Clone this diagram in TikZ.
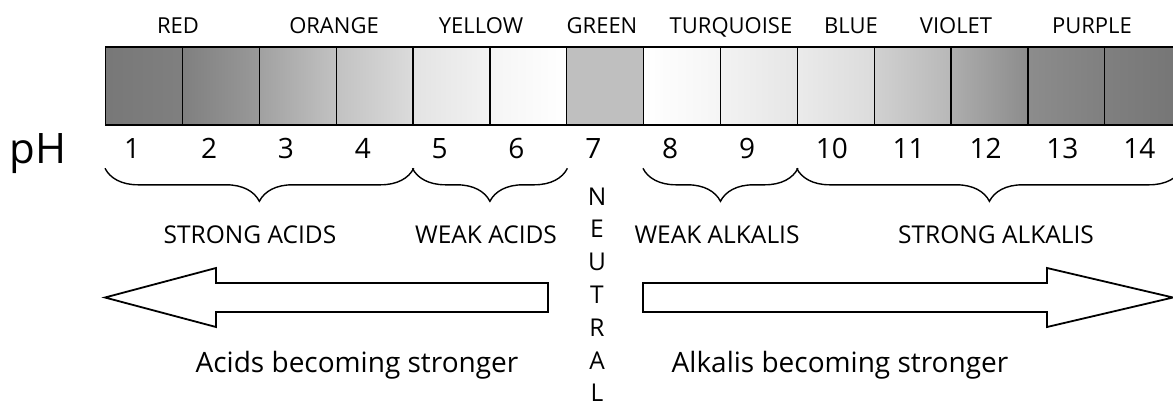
\documentclass[tikz,border=0pt]{standalone}
\usepackage{fontspec}
\setmainfont{Open Sans}
\usetikzlibrary{decorations.pathreplacing,positioning}

\begin{document}
\begin{tikzpicture}[x=1pt, y=-1pt,
    cell/.style = {draw, line width=1.3pt, rectangle, minimum width=76.85pt, minimum height=77pt, inner sep=0pt, anchor=north west},
    colname/.style = {font=\fontsize{22}{26}\selectfont, anchor=base, inner sep=0pt},
    num/.style = {font=\fontsize{28}{32}\selectfont, anchor=base west, inner sep=0pt},
    grp/.style = {font=\fontsize{24.5}{28}\selectfont, anchor=base, inner sep=0pt},
    trend/.style = {font=\fontsize{28}{32}\selectfont, anchor=base, inner sep=0pt},
    brace/.style = {decorate, decoration={brace, amplitude=33pt, mirror}, line width=1.4pt},
    bigarrow/.style = {draw, line width=1.8pt, fill=white, line join=miter}]
    \useasboundingbox (0,0) rectangle (1173,408);

    % colour bar, one cell per pH value
    \foreach \i/\l/\r in {1/47/50, 2/50/60, 3/63/76, 4/76/86, 5/89/95, 6/96/100, 7/75/75,
                          8/100/96, 9/95/90, 10/92/86, 11/82/72, 12/68/55, 13/55/50, 14/50/46}
        \node[cell, left color=white!\l!black, right color=white!\r!black] (c\i) at ({105+(\i-1)*76.85},47) {};
    \draw[line width=2pt] (c1.north west) -- (c14.north east);
    \draw[line width=2pt] (c1.south west) -- (c14.south east);

    % colour names
    \node[colname] (red) at (178,33) {RED};
    \node[colname] (orange) at (334,33) {ORANGE};
    \node[colname] (yellow) at (481,33) {YELLOW};
    \node[colname] (green) at (602,33) {GREEN};
    \node[colname] (turq) at (731,33) {TURQUOISE};
    \node[colname] (blue) at (851,33) {BLUE};
    \node[colname] (violet) at (956,33) {VIOLET};
    \node[colname] (purple) at (1092,33) {PURPLE};

    % pH scale
    \node[font=\fontsize{42}{46}\selectfont, anchor=base, inner sep=0pt] (pH) at (38,163) {pH};
    \foreach \i in {1,...,14}
        \node[num] (n\i) at ({105+(\i-1)*76.85+19},158) {\i};

    % braces
    \draw[brace] ([yshift=-43pt]c1.south west) -- ([yshift=-43pt]c4.south east);
    \draw[brace] ([yshift=-43pt]c5.south west) -- ([yshift=-43pt]c6.south east);
    \draw[brace] ([yshift=-43pt]c8.south west) -- ([yshift=-43pt]c9.south east);
    \draw[brace] ([yshift=-43pt]c10.south west) -- ([yshift=-43pt]c14.south east);

    \node[grp] (strongacids) at (250,243) {STRONG ACIDS};
    \node[grp] (weakacids) at (486,243) {WEAK ACIDS};
    \node[grp] (weakalk) at (717,243) {WEAK ALKALIS};
    \node[grp] (strongalk) at (996,243) {STRONG ALKALIS};

    % NEUTRAL written downwards
    \foreach \c [count=\k] in {N,E,U,T,R,A,L}
        \node[grp] (neut\k) at ({597},{205+(\k-1)*32.8}) {\c};

    % block arrows
    \draw[bigarrow] (548,283) -- (216,283) -- (216,268) -- (105,297.5) -- (216,327) -- (216,312) -- (548,312) -- cycle;
    \draw[bigarrow] (643,283) -- (1047,283) -- (1047,268) -- (1173,297.5) -- (1047,327) -- (1047,312) -- (643,312) -- cycle;

    \node[trend] (acidtrend) at (357,372) {Acids becoming stronger};
    \node[trend] (alktrend) at (840,372) {Alkalis becoming stronger};
\end{tikzpicture}
\end{document}
